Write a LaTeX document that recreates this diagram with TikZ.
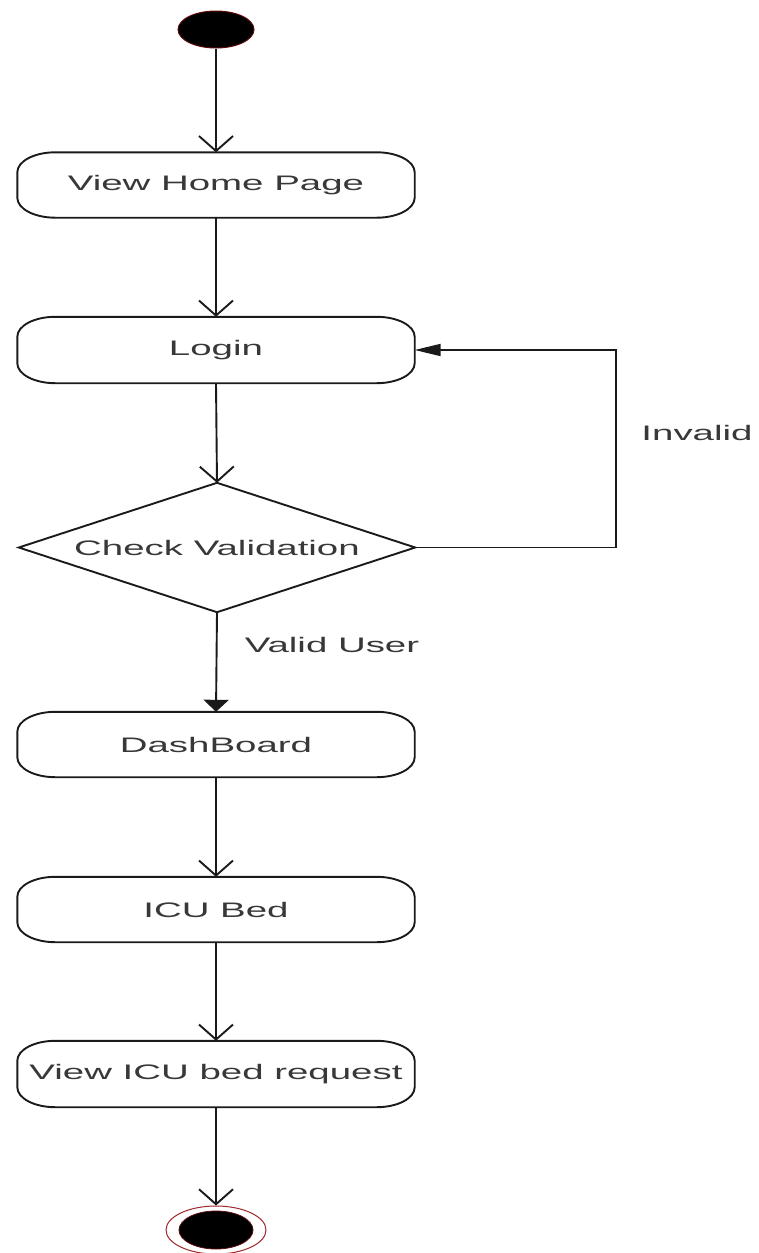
\documentclass[tikz,border=0pt]{standalone}
\usepackage{fontspec}
\setmainfont{Liberation Sans}[FakeStretch=1.83]
\usetikzlibrary{arrows.meta,shapes.geometric}
\definecolor{linec}{HTML}{1A1A1A}
\definecolor{textc}{HTML}{383838}
\definecolor{nodeedge}{HTML}{5A0A0A}
\definecolor{endring}{HTML}{A02828}
\newcommand{\myroundbox}[1]{%
  \draw[boxline] ([xshift=38pt]#1.north west) -- ([xshift=-38pt]#1.north east)
    arc[start angle=90,end angle=0,x radius=38pt,y radius=20pt]
    -- ([yshift=20pt]#1.south east)
    arc[start angle=0,end angle=-90,x radius=38pt,y radius=20pt]
    -- ([xshift=38pt]#1.south west)
    arc[start angle=270,end angle=180,x radius=38pt,y radius=20pt]
    -- ([yshift=-20pt]#1.north west)
    arc[start angle=180,end angle=90,x radius=38pt,y radius=20pt] -- cycle;}
\tikzset{
  boxline/.style={draw=linec,line width=1.9pt},
  actbox/.style={rectangle,minimum width=397pt,minimum height=65pt,inner sep=0pt,
    text=textc,font=\fontsize{21}{25}\selectfont},
  lbl/.style={inner sep=0pt,text=textc,font=\fontsize{21}{25}\selectfont},
  conn/.style={draw=linec,line width=1.9pt},
  openv/.style={-{Straight Barb[length=15pt,width=34pt,line width=1.9pt]}},
  filldown/.style={-{Triangle[length=12pt,width=25pt]}},
  fillleft/.style={-{Triangle[length=26pt,width=12pt]}},
}
\begin{document}
\begin{tikzpicture}[x=1pt,y=1pt]
\useasboundingbox (0,0) rectangle (759,-1253);
% start node
\node[ellipse,minimum width=76pt,minimum height=37pt,inner sep=0pt,fill=black,draw=nodeedge,line width=1pt] (start) at (216,-29.5) {};
% activity boxes
\node[actbox] (home) at (216,-185) {View Home Page};
\node[actbox,minimum height=66pt] (login) at (216,-350) {Login};
\node[rectangle,minimum width=396pt,minimum height=129pt,inner sep=0pt,text=textc,font=\fontsize{21}{25}\selectfont] (check) at (217,-547.5) {Check Validation};
\node[actbox] (dash) at (216,-744.5) {DashBoard};
\node[actbox] (icu) at (216,-909.5) {ICU Bed};
\node[actbox,minimum height=66pt] (req) at (216,-1074) {View ICU bed request};
\foreach \n in {home,login,dash,icu,req} {\myroundbox{\n}}
\draw[boxline] (check.north) -- (check.east) -- (check.south) -- (check.west) -- cycle;
% end node
\node[ellipse,minimum width=100pt,minimum height=48pt,inner sep=0pt,draw=endring,line width=1pt] (end) at (216,-1230) {};
\node[ellipse,minimum width=74pt,minimum height=38pt,inner sep=0pt,fill=black,draw=nodeedge,line width=0.8pt] (endin) at (216,-1230) {};
% connectors
\draw[conn,openv] (start.south) -- (home.north);
\draw[conn,openv] (home.south) -- (login.north);
\draw[conn,openv] (login.south) -- (check.north);
\draw[conn,filldown] (check.south) -- (dash.north);
\draw[conn,openv] (dash.south) -- (icu.north);
\draw[conn,openv] (icu.south) -- (req.north);
\draw[conn,openv] (req.south) -- (end.north);
\draw[conn,fillleft] (check.east) -- ++(201,0) |- (login.east);
% labels
\node[lbl] (invalid) at (697,-433) {Invalid};
\node[lbl] (valid) at (332,-645) {Valid User};
\end{tikzpicture}
\end{document}
